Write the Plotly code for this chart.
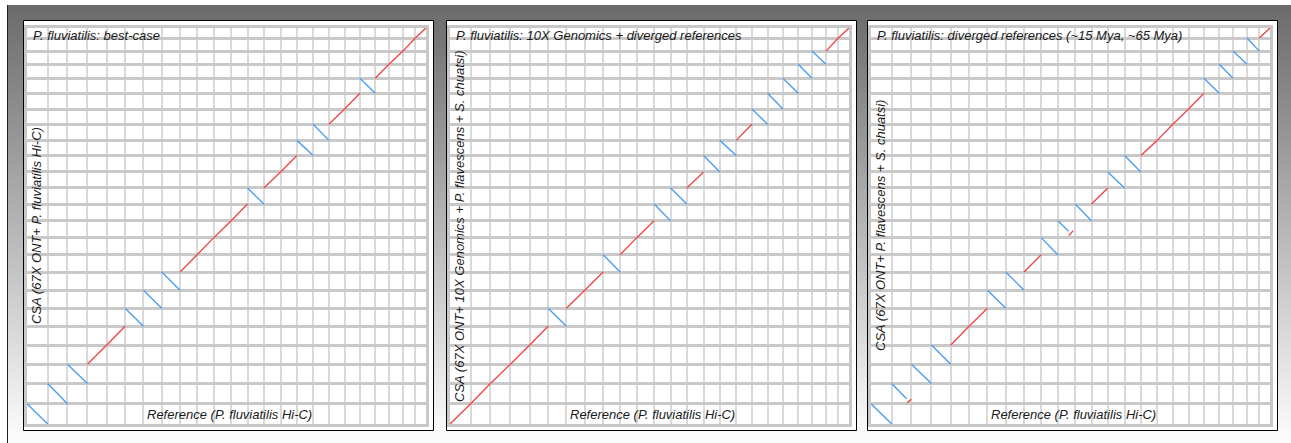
import plotly.graph_objects as go
import numpy as np

W, H = 1291, 443

# ---------------- data ----------------
# chromosome lengths (approx. Mb) of the reference (x) and the assemblies (y)
ref_chrom_len_mb = [45.5, 43.3, 44.0, 42.5, 40.3, 40.3, 40.3, 40.3, 37.4, 36.7, 38.1, 35.9,
                    35.9, 36.7, 35.9, 35.9, 34.5, 34.5, 33.7, 33.7, 30.1, 30.8, 27.1, 23.5]
qry_chrom_len_mb = [44.5, 44.0, 42.5, 41.8, 41.0, 39.6, 39.6, 39.6, 38.0, 37.4, 37.0, 36.5,
                    35.2, 35.2, 36.0, 33.0, 35.5, 33.0, 34.5, 33.0, 30.8, 28.6, 28.6, 22.0]

panel_titles = ["P. fluviatilis: best-case",
                "P. fluviatilis: 10X Genomics + diverged references",
                "P. fluviatilis: diverged references (~15 Mya, ~65 Mya)"]
x_label = "Reference (P. fluviatilis Hi-C)"
y_labels = ["CSA (67X ONT+ P. fluviatilis Hi-C)",
            "CSA (67X ONT+ 10X Genomics + P. flavescens + S. chuatsi)",
            "CSA (67X ONT+ P. flavescens + S. chuatsi)"]

# strand of the whole-chromosome alignment, chromosome 1..24 ('.' = see partial list)
strand_best = list("---++---++++-++--++-++++")
strand_10x = list("+++++-++-++--+--+-----++")
strand_div = list("-.--++--+-.-+--++++----+")

# partial alignments: (chromosome, ref start frac, ref end frac, query start frac, query end frac)
partial_best = []
partial_10x = []
partial_div = [(2, 0.0, 0.75, 1.0, 0.25), (2, 0.78, 1.0, 0.05, 0.22),
               (11, 0.0, 0.62, 1.0, 0.38), (11, 0.64, 0.88, 0.12, 0.41)]

strands = [strand_best, strand_10x, strand_div]
partials = [partial_best, partial_10x, partial_div]

# ---------------- layout geometry ----------------
def px(x):
    return x / W

def py(y):
    return 1 - y / H

panel_box_x = [(23, 433), (446, 856), (867, 1277)]
plot_x = [(27, 426), (450, 849), (871, 1270)]
plot_y = (28, 424)

RED = "#f0474a"
BLUE = "#4a9ef0"

ref_cum = np.concatenate([[0], np.cumsum(ref_chrom_len_mb)])
qry_cum = np.concatenate([[0], np.cumsum(qry_chrom_len_mb)])

def segments(strand, partial):
    fx, fy, rx, ry = [], [], [], []
    for i, s in enumerate(strand):
        if s == '.':
            continue
        x0, x1 = ref_cum[i], ref_cum[i + 1]
        y0, y1 = qry_cum[i], qry_cum[i + 1]
        if s == '+':
            fx += [x0, x1, None]; fy += [y0, y1, None]
        else:
            rx += [x0, x1, None]; ry += [y1, y0, None]
    for (c, a, b, qa, qb) in partial:
        i = c - 1
        xa = ref_cum[i] + a * ref_chrom_len_mb[i]
        xb = ref_cum[i] + b * ref_chrom_len_mb[i]
        ya = qry_cum[i] + qa * qry_chrom_len_mb[i]
        yb = qry_cum[i] + qb * qry_chrom_len_mb[i]
        if yb > ya:
            fx += [xa, xb, None]; fy += [ya, yb, None]
        else:
            rx += [xa, xb, None]; ry += [ya, yb, None]
    return fx, fy, rx, ry

fig = go.Figure()
shapes = []
annotations = []

# gradient background
g_top, g_bot = 5, 443
step = 3
for y in range(g_top, g_bot, step):
    t = (y - g_top) / (430 - g_top)
    v = int(round(107 + min(t, 1.0) * (250 - 107)))
    col = f"rgb({v},{v},{v})"
    shapes.append(dict(type="rect", xref="paper", yref="paper", layer="below",
                       x0=px(7), x1=1.0, y0=py(min(y + step, g_bot)), y1=py(y),
                       fillcolor=col, line=dict(width=0)))
shapes.append(dict(type="line", xref="paper", yref="paper", layer="below",
                   x0=px(7.5), x1=px(7.5), y0=0, y1=py(5),
                   line=dict(color="#222222", width=1)))

layout_axes = {}
for k in range(3):
    s = "" if k == 0 else str(k + 1)
    bx0, bx1 = panel_box_x[k]
    shapes.append(dict(type="rect", xref="paper", yref="paper", layer="below",
                       x0=px(bx0 + 0.5), x1=px(bx1 + 0.5), y0=py(430.5), y1=py(20.5),
                       fillcolor="white", line=dict(color="black", width=1)))
    x0, x1 = plot_x[k]
    layout_axes["xaxis" + s] = dict(
        domain=[px(x0), px(x1)], range=[0, ref_cum[-1]], anchor="y" + s,
        tickmode="array", tickvals=list(ref_cum[1:-1]), showticklabels=False, ticks="",
        showgrid=True, gridcolor="#d9d9d9", gridwidth=2, zeroline=False,
        showline=True, linecolor="#c8c8c8", linewidth=3, mirror=True, fixedrange=True)
    layout_axes["yaxis" + s] = dict(
        domain=[py(plot_y[1]), py(plot_y[0])], range=[0, qry_cum[-1]], anchor="x" + s,
        tickmode="array", tickvals=list(qry_cum[1:-1]), showticklabels=False, ticks="",
        showgrid=True, gridcolor="#c9c9c9", gridwidth=2.6, zeroline=False,
        showline=True, linecolor="#c8c8c8", linewidth=3, mirror=True, fixedrange=True)

    fx, fy, rx, ry = segments(strands[k], partials[k])
    fig.add_trace(go.Scatter(x=fx, y=fy, mode="lines", line=dict(color=RED, width=1.4),
                             xaxis="x" + s, yaxis="y" + s, showlegend=False, hoverinfo="skip"))
    fig.add_trace(go.Scatter(x=rx, y=ry, mode="lines", line=dict(color=BLUE, width=1.4),
                             xaxis="x" + s, yaxis="y" + s, showlegend=False, hoverinfo="skip"))

    font = dict(family="Liberation Sans, Arial, sans-serif", size=13, color="#1a1a1a")
    annotations.append(dict(text="<i>" + panel_titles[k] + "</i>", xref="paper", yref="paper",
                            x=px(x0 + 4), y=py(35), xanchor="left", yanchor="middle",
                            showarrow=False, font=font))
    annotations.append(dict(text="<i>" + x_label + "</i>", xref="paper", yref="paper",
                            x=px((x0 + x1) / 2 + 3), y=py(414), xanchor="center", yanchor="middle",
                            showarrow=False, font=font))
    annotations.append(dict(text="<i>" + y_labels[k] + "</i>", xref="paper", yref="paper",
                            x=px(x0 + 10), y=py(226), xanchor="center", yanchor="middle",
                            textangle=-90, showarrow=False, font=font))

fig.update_layout(width=W, height=H, margin=dict(l=0, r=0, t=0, b=0),
                  paper_bgcolor="white", plot_bgcolor="white",
                  shapes=shapes, annotations=annotations, **layout_axes)

fig.write_html("out.html", config={"displayModeBar": False},
               post_script="document.body.style.margin='0px';document.body.style.overflow='hidden';")
